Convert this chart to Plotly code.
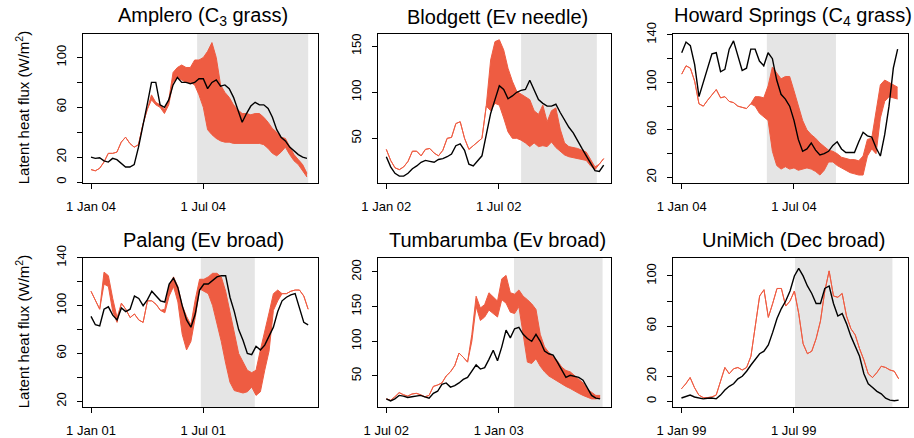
import plotly.graph_objects as go
import pandas as pd

RED = "#EE5C42"
GREY = "#E5E5E5"
FONT = "Liberation Sans, Arial, Helvetica, sans-serif"

# weekly sample days (offset from first tick date)
WEEK = list(range(0, 351, 7))

# ---------------- Amplero (C3 grass) ----------------
amp_obs = [20, 19, 19.5, 17, 16, 19, 18, 15, 12, 12,
           14, 28, 44, 62, 80, 80, 62, 60, 66, 78,
           84, 80, 80, 79, 80, 83, 83, 75, 80, 82,
           77, 78, 75, 68, 58, 48, 55, 61, 64, 62,
           62, 59, 52, 42, 36, 33, 28, 25, 22, 20,
           19]
amp_lo = [10, 9, 11, 16, 23, 23, 24, 32, 36, 31,
          28, 30, 46, 58, 66, 62, 60, 55, 62, 80,
          84, 82, 80, 80, 78, 70, 60, 42, 38, 35,
          33, 32, 32, 31, 31, 31, 31, 31, 31, 31,
          30, 27, 23, 21, 24, 28, 22, 17, 14, 9,
          4]
amp_hi = [10, 9, 11, 16, 23, 23, 24, 32, 36, 31,
          28, 30, 46, 58, 70, 64, 62, 58, 66, 88,
          92, 94, 92, 92, 98, 98, 100, 105, 112, 100,
          78, 72, 68, 62, 58, 55, 55, 54, 55, 55,
          52, 48, 43, 40, 36, 35, 28, 22, 18, 14,
          7]

# ---------------- Blodgett (Ev needle) ----------------
blo_obs = [30, 19, 12, 9, 9, 12, 17, 20, 24, 26,
           25, 24, 27, 28, 30, 33, 42, 44, 37, 22,
           20, 25, 31, 54, 77, 92, 107, 103, 93, 96,
           100, 102, 103, 113, 103, 92, 88, 85, 85, 87,
           78, 70, 62, 56, 47, 39, 31, 23, 15, 14,
           21]
blo_lo = [38, 26, 18, 16, 19, 25, 36, 36, 31, 38,
          39, 34, 31, 37, 50, 51, 66, 68, 50, 38,
          42, 46, 50, 85, 80, 88, 86, 72, 57, 50,
          50, 48, 45, 41, 45, 41, 42, 41, 46, 40,
          36, 32, 30, 29, 28, 27, 26, 20, 16, 22,
          28]
blo_hi = [38, 26, 18, 16, 19, 25, 36, 36, 31, 38,
          39, 34, 31, 37, 50, 51, 66, 68, 50, 38,
          42, 46, 50, 86, 135, 155, 157, 146, 126, 112,
          101, 98, 95, 92, 80, 76, 86, 68, 80, 83,
          60, 45, 41, 40, 39, 37, 35, 27, 19, 22,
          28]

# ---------------- Howard Springs (C4 grass) ----------------
how_obs = [125, 134, 131, 115, 88, 100, 110, 124, 125, 109,
           111, 128, 135, 123, 110, 112, 128, 128, 118, 114,
           125, 120, 102, 90, 86, 80, 68, 52, 42, 44,
           49, 43, 39, 40, 42, 47, 50, 44, 41, 41,
           41, 50, 58, 55, 54, 45, 38, 56, 80, 112,
           128]
how_lo = [107, 114, 112, 101, 82, 80, 85, 90, 94, 87,
          88, 84, 83, 80, 79, 78, 82, 80, 74, 71,
          68, 42, 30, 27, 29, 27, 28, 26, 27, 28,
          27, 25, 22, 26, 33, 33, 30, 28, 26, 24,
          23, 22, 22, 38, 44, 40, 70, 84, 88, 87,
          86]
how_hi = [107, 114, 112, 101, 82, 80, 85, 90, 94, 87,
          88, 84, 83, 80, 79, 78, 82, 88, 88, 87,
          97, 113, 108, 103, 105, 105, 93, 80, 68, 60,
          56, 53, 49, 46, 43, 42, 40, 37, 36, 35,
          35, 34, 38, 52, 53, 75, 98, 102, 100, 98,
          96]

# ---------------- Palang (Ev broad) ----------------
pal_obs = [91, 84, 83, 97, 99, 92, 88, 98, 95, 97,
           108, 106, 100, 105, 112, 108, 104, 103, 118, 123,
           115, 100, 88, 82, 93, 113, 118, 118, 121, 124,
           125, 125, 107, 95, 80, 71, 60, 59, 66, 63,
           67, 74, 82, 95, 104, 107, 109, 110, 98, 86,
           84]
pal_lo = [112, 104, 97, 118, 116, 95, 86, 102, 97, 90,
          93, 88, 86, 104, 104, 101, 96, 94, 108, 116,
          103, 76, 63, 70, 90, 114, 112, 110, 100, 85,
          70, 52, 36, 29, 28, 27, 28, 32, 25, 28,
          46, 62, 96, 104, 110, 110, 112, 113, 113, 108,
          97]
pal_hi = [112, 104, 97, 128, 125, 106, 90, 102, 97, 90,
          93, 88, 86, 104, 104, 101, 96, 97, 117, 124,
          116, 100, 91, 84, 105, 122, 122, 124, 127, 127,
          124, 112, 95, 78, 60, 53, 46, 44, 46, 63,
          80, 94, 110, 113, 110, 110, 112, 113, 113, 108,
          97]

# ---------------- Tumbarumba (Ev broad) ----------------
tum_obs = [17, 14, 17, 22, 21, 19, 20, 21, 22, 20,
           18, 25, 28, 38, 40, 34, 36, 40, 45, 48,
           58, 66, 60, 62, 74, 87, 72, 92, 116, 105,
           118, 120, 110, 104, 100, 110, 100, 86, 82, 80,
           70, 58, 48, 51, 49, 48, 44, 34, 22, 18,
           17]
tum_lo = [17, 15, 20, 26, 23, 21, 24, 25, 23, 20,
          22, 35, 37, 40, 50, 56, 65, 83, 77, 70,
          100, 150, 130, 135, 145, 140, 135, 160, 155, 142,
          140, 150, 110, 70, 68, 75, 64, 56, 50, 46,
          42, 38, 35, 32, 28, 25, 22, 19, 17, 17,
          18]
tum_hi = [17, 15, 20, 26, 23, 21, 24, 25, 23, 20,
          22, 35, 37, 40, 50, 56, 65, 83, 77, 70,
          110, 165, 148, 153, 170, 164, 158, 190, 195, 170,
          168, 174, 165, 160, 154, 146, 110, 92, 84, 78,
          72, 63, 58, 56, 51, 46, 40, 31, 26, 22,
          22]

# ---------------- UniMich (Dec broad) ----------------
uni_obs = [2.7, 4, 5, 3.5, 3, 2, 2.5, 2.7, 2, 5,
           9, 12, 14, 18, 20, 24, 29, 34, 38, 40,
           45, 55, 66, 74, 80, 88, 100, 106, 100, 92,
           86, 78, 78, 90, 92, 78, 68, 70, 62, 52,
           44, 36, 22, 14, 11, 8, 6, 2.5, 1, 0.5,
           1]
uni_mod = [10, 14, 19, 11, 5, 3, 3, 3.5, 5, 16,
           27, 22, 26, 27, 25, 27, 36, 60, 84, 89,
           67, 78, 90, 90, 76, 80, 88, 70, 46, 38,
           40, 50, 64, 88, 104, 84, 83, 86, 68, 58,
           53, 42, 33, 22, 19, 23, 28, 27, 25, 24,
           18]

titles = ["Amplero (C<sub>3</sub> grass)", "Blodgett (Ev needle)",
          "Howard Springs (C<sub>4</sub> grass)", "Palang (Ev broad)",
          "Tumbarumba (Ev broad)", "UniMich (Dec broad)"]
tick_dates = [("2004-01-01", "2004-07-01"), ("2002-01-01", "2002-07-01"),
              ("2004-01-01", "2004-07-01"), ("2001-01-01", "2001-07-01"),
              ("2002-07-01", "2003-01-01"), ("1999-01-01", "1999-07-01")]
tick_labels = [("1 Jan 04", "1 Jul 04"), ("1 Jan 02", "1 Jul 02"),
               ("1 Jan 04", "1 Jul 04"), ("1 Jan 01", "1 Jul 01"),
               ("1 Jul 02", "1 Jan 03"), ("1 Jan 99", "1 Jul 99")]
# drought periods (day offsets from first tick date)
shade_days = [(172, 352), (217, 339), (138, 250), (177, 264), (209, 354), (183, 340)]
obs_list = [amp_obs, blo_obs, how_obs, pal_obs, tum_obs, uni_obs]
lo_list = [amp_lo, blo_lo, how_lo, pal_lo, tum_lo, uni_mod]
hi_list = [amp_hi, blo_hi, how_hi, pal_hi, tum_hi, uni_mod]
ytick_vals = [[0, 20, 40, 60, 80, 100], [50, 100, 150], [20, 40, 60, 80, 100, 120, 140],
              [20, 40, 60, 80, 100, 120, 140], [50, 100, 150, 200], [0, 20, 40, 60, 80, 100]]
ytick_text = [["0", "20", "", "60", "", "100"], ["50", "100", "150"],
              ["20", "", "60", "", "100", "", "140"], ["20", "", "60", "", "100", "", "140"],
              ["50", "100", "150", "200"], ["0", "20", "", "60", "", "100"]]

# layout geometry (pixels)
W, H = 914, 438
xr_days = [(-13.45, 367.4), (-13.85, 361.3), (-14.6, 366.3), (-13.4, 365.4), (-14.1, 367.3), (-14.1, 364.6)]
y_ranges = [(-0.8, 119.3), (1.5, 163.8), (15.3, 141.2), (15.3, 140.2), (5.3, 220.8), (-4.5, 114.7)]
col_px = [(82.7, 317.7), (377.7, 610.7), (672.7, 907.7)]
row_px = [(33.5, 183.0), (257.5, 407.0)]

fig = go.Figure()
layout = dict(template="none", width=W, height=H, margin=dict(l=0, r=0, t=0, b=0, pad=0),
              autosize=False,
              plot_bgcolor="white", paper_bgcolor="white", showlegend=False,
              font=dict(family=FONT, color="black"))
shapes, annotations = [], []


def dates(t0, days):
    base = pd.Timestamp(t0)
    return [base + pd.Timedelta(days=float(d)) for d in days]


for i in range(6):
    r, c = divmod(i, 3)
    n = "" if i == 0 else str(i + 1)
    xa, ya = "x" + n, "y" + n
    t0 = tick_dates[i][0]
    xs = dates(t0, WEEK)
    fig.add_trace(go.Scatter(x=xs, y=lo_list[i], xaxis=xa, yaxis=ya, mode="lines",
                             line=dict(color=RED, width=1), hoverinfo="skip"))
    fig.add_trace(go.Scatter(x=xs, y=hi_list[i], xaxis=xa, yaxis=ya, mode="lines",
                             line=dict(color=RED, width=1), fill="tonexty",
                             fillcolor=RED, hoverinfo="skip"))
    fig.add_trace(go.Scatter(x=xs, y=obs_list[i], xaxis=xa, yaxis=ya, mode="lines",
                             line=dict(color="black", width=1.4), hoverinfo="skip"))
    x0p, x1p = col_px[c]
    y0p, y1p = row_px[r]
    xr = dates(t0, xr_days[i])
    layout["xaxis" + n] = dict(
        domain=[x0p / W, x1p / W], anchor=ya, type="date", range=xr, automargin=False,
        tickvals=[pd.Timestamp(d) for d in tick_dates[i]], ticktext=list(tick_labels[i]),
        ticks="outside", ticklen=5, tickwidth=1, tickcolor="black",
        showline=True, mirror=True, linecolor="black", linewidth=1,
        showgrid=False, zeroline=False, tickfont=dict(size=13, family=FONT, color="black"),
        ticklabelstandoff=6)
    layout["yaxis" + n] = dict(
        domain=[1 - y1p / H, 1 - y0p / H], anchor=xa, range=list(y_ranges[i]), automargin=False,
        tickvals=ytick_vals[i], ticktext=ytick_text[i], tickangle=-90,
        ticks="outside", ticklen=5, tickwidth=1, tickcolor="black",
        showline=True, mirror=True, linecolor="black", linewidth=1,
        showgrid=False, zeroline=False, tickfont=dict(size=13, family=FONT, color="black"),
        ticklabelstandoff=6)
    sd = dates(t0, shade_days[i])
    shapes.append(dict(type="rect", xref=xa, yref=ya + " domain", x0=sd[0], x1=sd[1],
                       y0=0, y1=1, fillcolor=GREY, line=dict(width=0), layer="below"))
    title_y = 17 if r == 0 else 240
    annotations.append(dict(text=titles[i], xref="paper", yref="paper",
                            x=((x0p + x1p) / 2 + 3) / W, y=1 - title_y / H,
                            xanchor="center", yanchor="middle", showarrow=False,
                            font=dict(size=20, family=FONT, color="black")))

for r in range(2):
    y0p, y1p = row_px[r]
    annotations.append(dict(text="Latent heat flux (W/m<sup>2</sup>)", xref="paper", yref="paper",
                            x=22 / W, y=1 - (y0p + y1p) / 2 / H, textangle=-90,
                            xanchor="center", yanchor="middle", showarrow=False,
                            font=dict(size=15, family=FONT, color="black")))

layout["shapes"] = shapes
layout["annotations"] = annotations
fig.update_layout(**layout)
fig.write_html("out.html")
